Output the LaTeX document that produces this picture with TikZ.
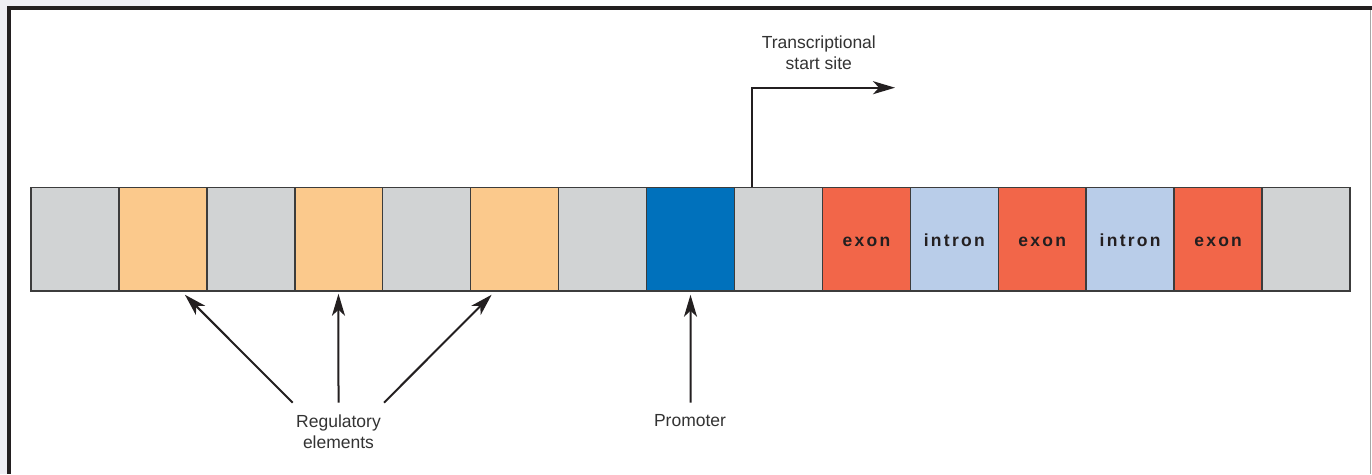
\documentclass[tikz,border=0pt]{standalone}
\usepackage{fontspec}
\setmainfont{Liberation Sans}
\newfontfamily\boxfont{Liberation Sans}[LetterSpace=13]
\usetikzlibrary{arrows.meta,calc}
\definecolor{framec}{HTML}{231F20}
\definecolor{grayc}{HTML}{D1D3D4}
\definecolor{orangec}{HTML}{FBC98C}
\definecolor{bluec}{HTML}{0071BC}
\definecolor{exonc}{HTML}{F26649}
\definecolor{intronc}{HTML}{B9CDE9}
\definecolor{edgec}{HTML}{3C3C3C}
\definecolor{textc}{HTML}{333333}
\definecolor{sidec}{HTML}{EFEEF4}
\tikzset{
  seg/.style={draw=edgec, line width=1.5pt, minimum width=87.93pt, minimum height=103.5pt, inner sep=0pt, outer sep=0pt, anchor=center, text height=14pt, text depth=0pt},
  gseg/.style={seg, fill=grayc},
  oseg/.style={seg, fill=orangec},
  bseg/.style={seg, fill=bluec},
  eseg/.style={seg, fill=exonc, font=\boxfont\bfseries\fontsize{17.5}{20}\selectfont, text=framec},
  iseg/.style={seg, fill=intronc, font=\boxfont\bfseries\fontsize{17.5}{20}\selectfont, text=framec},
  lbl/.style={align=center, text=textc, font=\fontsize{17.5}{21}\selectfont, inner sep=0pt},
  arr/.style={draw=framec, line width=2pt, -{Stealth[length=22pt, width=13pt, inset=6pt]}}
}
\begin{document}
\begin{tikzpicture}[x=1pt,y=-1pt]
\useasboundingbox (0,0) rectangle (1372,474);
% background and frame
\fill[sidec] (0,0) rectangle (7,474);
\fill[sidec] (0,0) rectangle (150,6);
\fill[white] (7,6) rectangle (1372,474);
\fill[framec] (7,6) rectangle (1372,10);
\fill[framec] (7,6) rectangle (11,474);
\draw[color=gray!70, line width=1.5pt] (1370.5,10) -- (1370.5,474);
% segments
\foreach \i/\s/\t in {1/gseg/,2/oseg/,3/gseg/,4/oseg/,5/gseg/,6/oseg/,7/gseg/,8/bseg/,9/gseg/,10/eseg/exon,11/iseg/intron,12/eseg/exon,13/iseg/intron,14/eseg/exon,15/gseg/}{
  \node[\s] (b\i) at ({31+(\i-0.5)*87.933},239) {\t};
}
% labels
\node[lbl] (tss) at (818.8,53) {Transcriptional\\start site};
\node[lbl] (reg) at (338.5,432) {Regulatory\\elements};
\node[lbl] (prom) at (690,421) {Promoter};
% transcription start arrow
\coordinate (tssbase) at ($(b9.north west)+(17.3,0)$);
\coordinate (tssend) at (895,87.7);
\draw[arr] (tssbase) |- (tssend);
% regulatory arrows
\coordinate (r1) at (292.7,402.7);
\coordinate (r2) at (338.5,402.7);
\coordinate (r3) at (384,402.7);
\draw[arr] (r1) -- ($(b2.south)+(22,4)$);
\draw[arr] (r2) -- ($(b4.south)+(-0.3,3)$);
\draw[arr] (r3) -- ($(b6.south)+(-23,4)$);
% promoter arrow
\coordinate (p1) at (690.5,402.7);
\draw[arr] (p1) -- ($(b8.south)+(0,4)$);
\end{tikzpicture}
\end{document}
